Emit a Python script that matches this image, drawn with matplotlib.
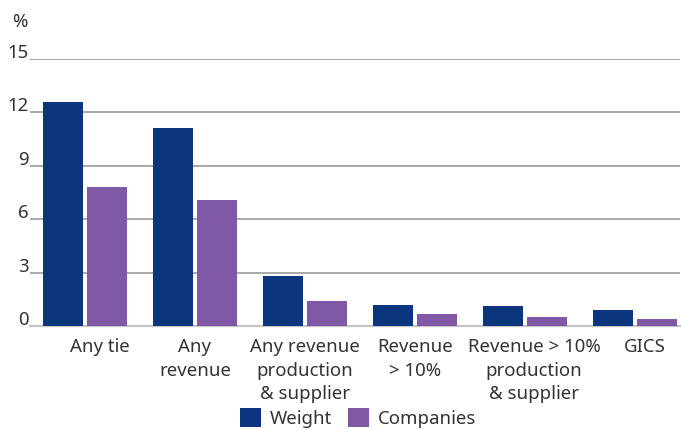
import numpy as np
import matplotlib
matplotlib.use('Agg')
import matplotlib.pyplot as plt
import matplotlib.transforms as mtransforms
from matplotlib.patches import Patch

plt.rcParams['font.family'] = ['Noto Sans', 'DejaVu Sans']

categories = ['Any tie', 'Any\nrevenue', 'Any revenue\nproduction\n& supplier',
              'Revenue\n> 10%', 'Revenue > 10%\nproduction\n& supplier', 'GICS']
weight = [12.6, 11.1, 2.8, 1.2, 1.1, 0.9]
companies = [7.8, 7.1, 1.4, 0.7, 0.5, 0.4]
yticks = [0, 3, 6, 9, 12, 15]

navy = '#0b357c'
purple = '#7f59a5'
text_col = '#333333'
fs = 13.4

fig = plt.figure(figsize=(6.81, 4.30), dpi=100)
ax = fig.add_axes([30 / 681, 1 - 326 / 430, 650 / 681, 267 / 430])

x = np.arange(len(categories))
ax.bar(x - 0.2, weight, width=0.364, color=navy, zorder=3)
ax.bar(x + 0.2, companies, width=0.364, color=purple, zorder=3)

ax.set_xlim(-0.5, 5.41)
ax.set_ylim(0, 15)
ax.set_yticks(yticks)
ax.set_yticklabels([str(v) for v in yticks])
ax.yaxis.grid(True, color='#a8a8a8', linewidth=1.4, zorder=0)
ax.set_axisbelow(True)

for side in ['top', 'right', 'left']:
    ax.spines[side].set_visible(False)
ax.spines['bottom'].set_color('#c4c4c4')
ax.spines['bottom'].set_linewidth(1.6)

ax.set_xticks(x)
ax.set_xticklabels(categories, fontsize=fs, color=text_col, linespacing=1.38)
ax.tick_params(axis='x', length=0, pad=9)
ax.tick_params(axis='y', length=0, pad=1, labelsize=fs, labelcolor=text_col)
for lbl in ax.get_yticklabels():
    lbl.set_verticalalignment('baseline')
    lbl.set_transform(lbl.get_transform() + mtransforms.ScaledTranslation(0, 1 / 100, fig.dpi_scale_trans))

# a few labels sit slightly right of their group
shifts = {0: 15, 4: 9, 5: 10}
for i, lbl in enumerate(ax.get_xticklabels()):
    if i in shifts:
        lbl.set_transform(lbl.get_transform() + mtransforms.ScaledTranslation(shifts[i] / 100, 0, fig.dpi_scale_trans))

fig.text(12 / 681, 1 - 22 / 430, '%', fontsize=fs, color=text_col, va='center', ha='left')

handles = [Patch(facecolor=navy, label='Weight'), Patch(facecolor=purple, label='Companies')]
fig.legend(handles=handles, loc='center', bbox_to_anchor=(358 / 681, 12 / 430), ncol=2,
           frameon=False, fontsize=fs, labelcolor=text_col, handlelength=1.13, handleheight=1.13,
           handletextpad=0.48, columnspacing=0.86, borderpad=0, borderaxespad=0)

fig.savefig('out.png', dpi=100)
